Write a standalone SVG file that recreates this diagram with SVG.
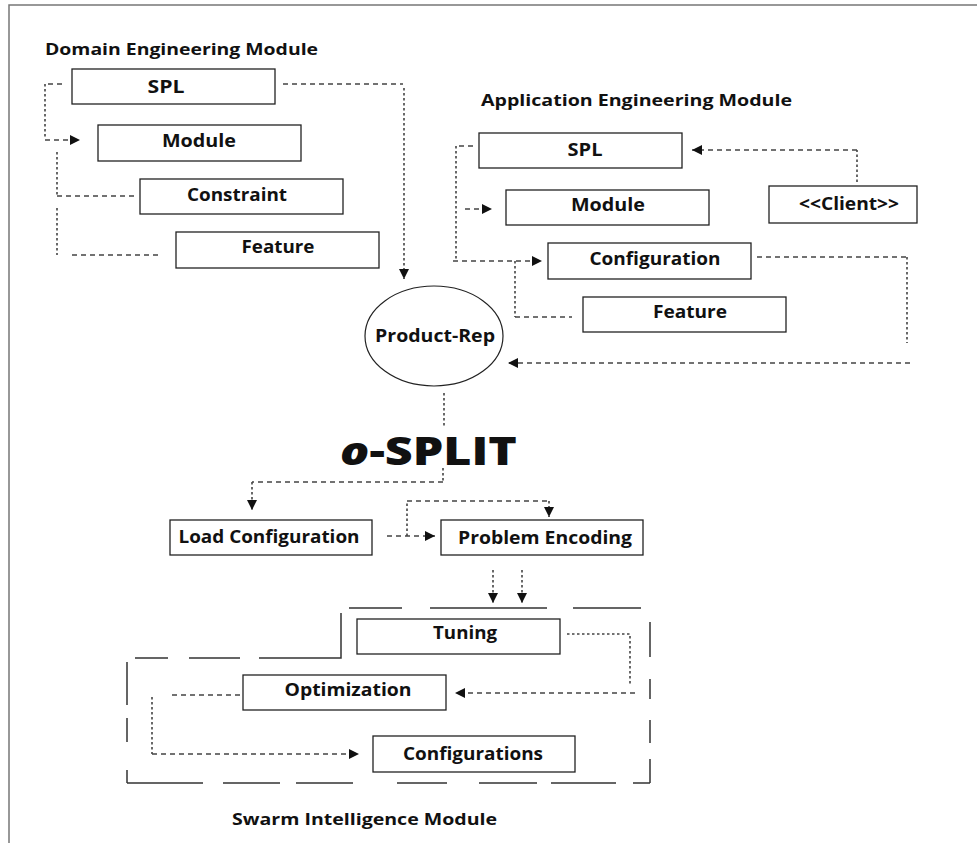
<svg xmlns="http://www.w3.org/2000/svg" width="977" height="843" viewBox="0 0 977 843">
<style>
.box{fill:#fff;stroke:#222;stroke-width:1.3}
.lbl{font-family:"Open Sans","DejaVu Sans",sans-serif;font-weight:700;font-size:17px;fill:#111;text-anchor:middle}
.ttl{font-family:"Open Sans","DejaVu Sans",sans-serif;font-weight:700;font-size:16px;fill:#111}
.dash{fill:none;stroke:#444;stroke-width:1.4;stroke-dasharray:5 4}
.dot{fill:none;stroke:#444;stroke-width:1.6;stroke-dasharray:2.5 2.5}
.frame{fill:none;stroke:#333;stroke-width:1.5}
</style>
<defs>
<marker id="ah" markerUnits="userSpaceOnUse" markerWidth="11" markerHeight="10" refX="10" refY="5" orient="auto">
<path d="M0,0 L10,5 L0,10 z" fill="#111"/>
</marker>
</defs>
<rect x="0" y="0" width="977" height="843" fill="#fff"/>
<!-- outer frame -->
<path d="M9,843 V5 H977" fill="none" stroke="#777" stroke-width="1.5"/>

<!-- titles -->
<text class="ttl" x="45" y="55" textLength="273" lengthAdjust="spacingAndGlyphs">Domain Engineering Module</text>
<text class="ttl" x="481" y="106" textLength="311" lengthAdjust="spacingAndGlyphs">Application Engineering Module</text>
<text class="ttl" x="232" y="825" textLength="265" lengthAdjust="spacingAndGlyphs">Swarm Intelligence Module</text>

<!-- Domain nodes -->
<g id="d-spl"><rect class="box" x="72" y="69" width="203" height="35"/><text class="lbl" x="166" y="93" textLength="37" lengthAdjust="spacingAndGlyphs">SPL</text></g>
<g id="d-module"><rect class="box" x="98" y="125" width="203" height="36"/><text class="lbl" x="199" y="147" textLength="74" lengthAdjust="spacingAndGlyphs">Module</text></g>
<g id="d-constraint"><rect class="box" x="140" y="179" width="203" height="35"/><text class="lbl" x="237" y="201" textLength="100" lengthAdjust="spacingAndGlyphs">Constraint</text></g>
<g id="d-feature"><rect class="box" x="176" y="232" width="203" height="36"/><text class="lbl" x="278" y="253" textLength="73" lengthAdjust="spacingAndGlyphs">Feature</text></g>

<!-- Application nodes -->
<g id="a-spl"><rect class="box" x="479" y="133" width="203" height="35"/><text class="lbl" x="585" y="156" textLength="35" lengthAdjust="spacingAndGlyphs">SPL</text></g>
<g id="a-module"><rect class="box" x="506" y="190" width="203" height="35"/><text class="lbl" x="608" y="211" textLength="74" lengthAdjust="spacingAndGlyphs">Module</text></g>
<g id="a-client"><rect class="box" x="769" y="186" width="148" height="37"/><text class="lbl" x="849" y="210" textLength="100" lengthAdjust="spacingAndGlyphs">&lt;&lt;Client&gt;&gt;</text></g>
<g id="a-configuration"><rect class="box" x="548" y="243" width="203" height="36"/><text class="lbl" x="655" y="265" textLength="131" lengthAdjust="spacingAndGlyphs">Configuration</text></g>
<g id="a-feature"><rect class="box" x="583" y="297" width="203" height="35"/><text class="lbl" x="690" y="318" textLength="74" lengthAdjust="spacingAndGlyphs">Feature</text></g>

<!-- Product-Rep -->
<g id="product-rep"><ellipse cx="434" cy="336" rx="69" ry="50" fill="#fff" stroke="#222" stroke-width="1.2"/><text class="lbl" x="435" y="342" textLength="120" lengthAdjust="spacingAndGlyphs">Product-Rep</text></g>

<!-- o-SPLIT -->
<g id="o-split"><text x="340" y="465" font-family="'Open Sans','DejaVu Sans',sans-serif" font-weight="800" font-size="39" fill="#111" textLength="177" lengthAdjust="spacingAndGlyphs"><tspan font-style="italic">o</tspan>-SPLIT</text></g>

<!-- middle nodes -->
<g id="load-configuration"><rect class="box" x="170" y="520" width="202" height="35"/><text class="lbl" x="269" y="543" textLength="181" lengthAdjust="spacingAndGlyphs">Load Configuration</text></g>
<g id="problem-encoding"><rect class="box" x="441" y="520" width="202" height="35"/><text class="lbl" x="545" y="544" textLength="174" lengthAdjust="spacingAndGlyphs">Problem Encoding</text></g>

<!-- Swarm nodes -->
<g id="tuning"><rect class="box" x="357" y="619" width="203" height="35"/><text class="lbl" x="465" y="639" textLength="64" lengthAdjust="spacingAndGlyphs">Tuning</text></g>
<g id="optimization"><rect class="box" x="243" y="675" width="203" height="35"/><text class="lbl" x="348" y="696" textLength="127" lengthAdjust="spacingAndGlyphs">Optimization</text></g>
<g id="configurations"><rect class="box" x="373" y="736" width="202" height="36"/><text class="lbl" x="473" y="760" textLength="140" lengthAdjust="spacingAndGlyphs">Configurations</text></g>

<!-- swarm frame -->
<g id="swarm-frame" class="frame">
<path d="M349,608 H402 M430,608 H547 M573,608 H641"/>
<path d="M650,622 V657 M650,679 V699 M650,720 V743 M650,759 V783"/>
<path d="M127,783 H203 M223,783 H280 M296,783 H353 M397,783 H447 M479,783 H537 M551,783 H616 M633,783 H650"/>
<path d="M127,662 V705 M127,718 V742 M127,770 V783"/>
<path d="M135,658 H168 M189,658 H240 M259,658 H341 V613"/>
</g>

<!-- connectors -->
<g id="connectors">
<path class="dash" d="M62,84 H45"/>
<path class="dot" d="M45,84 V138"/>
<path class="dash" d="M45,140 H80" marker-end="url(#ah)"/>
<path class="dot" d="M57,152 V196"/>
<path class="dash" d="M57,196 H135"/>
<path class="dot" d="M57,208 V255"/>
<path class="dash" d="M72,255 H160"/>
<path class="dash" d="M283,84 H403"/>
<path class="dot" d="M404,88 V279" marker-end="url(#ah)"/>

<path class="dash" d="M473,146 H456"/>
<path class="dot" d="M456,146 V261"/>
<path class="dash" d="M465,209 H492" marker-end="url(#ah)"/>
<path class="dash" d="M453,261 H542" marker-end="url(#ah)"/>
<path class="dot" d="M515,261 V317"/>
<path class="dash" d="M515,317 H572"/>
<path class="dot" d="M857,182 V150"/>
<path class="dash" d="M857,150 H692" marker-end="url(#ah)"/>
<path class="dash" d="M757,257 H907"/>
<path class="dot" d="M907,257 V343"/>
<path class="dash" d="M910,363 H508" marker-end="url(#ah)"/>

<path class="dot" d="M444,393 V427"/>
<path class="dot" d="M443,468 V482"/>
<path class="dash" d="M443,482 H252"/>
<path class="dot" d="M252,482 V510" marker-end="url(#ah)"/>
<path class="dash" d="M387,536 H435" marker-end="url(#ah)"/>
<path class="dot" d="M407,536 V501"/>
<path class="dash" d="M407,501 H549"/>
<path class="dot" d="M549,501 V517" marker-end="url(#ah)"/>
<path class="dot" d="M493,570 V603" marker-end="url(#ah)"/>
<path class="dot" d="M522,570 V603" marker-end="url(#ah)"/>

<path class="dot" d="M567,634 H630 V685"/>
<path class="dash" d="M635,693 H455" marker-end="url(#ah)"/>
<path class="dash" d="M240,695 H172"/>
<path class="dot" d="M152,697 V754"/>
<path class="dash" d="M152,754 H359" marker-end="url(#ah)"/>
</g>
</svg>
